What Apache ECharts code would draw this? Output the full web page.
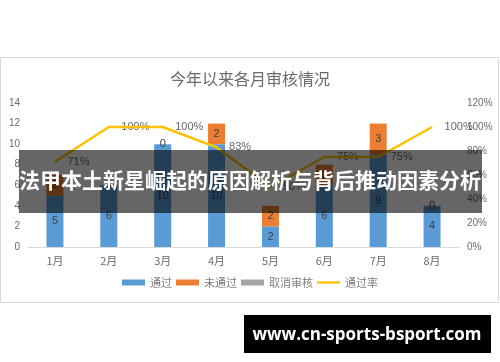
<!DOCTYPE html>
<html>
<head>
<meta charset="utf-8">
<script src="https://cdn.jsdelivr.net/npm/echarts@6/dist/echarts.min.js"></script>
<style>html,body{margin:0;padding:0;background:#fff;}#c{width:500px;height:362px;}</style>
</head>
<body>
<div id="c"></div>
<script>
var months = ['1月','2月','3月','4月','5月','6月','7月','8月'];
var passed = [5, 6, 10, 10, 2, 6, 9, 4];
var failed = [2, 0, 0, 2, 2, 2, 3, 0];
var cancelled = [0, 0, 0, 0, 0, 0, 0, 0];
var passRate = [71, 100, 100, 83, 50, 75, 75, 100];
var seriesNames = ['通过', '未通过', '取消审核', '通过率'];
var titleText = '今年以来各月审核情况';
var bannerText = '法甲本土新星崛起的原因解析与背后推动因素分析';
var siteText = 'www.cn-sports-bsport.com';

var chart = echarts.init(document.getElementById('c'));
var labelFont = 'Liberation Sans, Noto Sans CJK SC, sans-serif';
var cjkFont = 'Noto Sans CJK SC, sans-serif';
chart.setOption({
  animation: false,
  backgroundColor: '#fff',
  title: {
    text: titleText, left: 'center', top: 66,
    textStyle: {fontFamily: cjkFont, fontSize: 16, fontWeight: 'normal', color: '#6b6b6b'}
  },
  legend: {
    bottom: 69, left: 'center', itemGap: 4, itemWidth: 23, itemHeight: 6,
    textStyle: {fontFamily: cjkFont, fontSize: 11, color: '#7f7f7f'},
    data: [
      {name: seriesNames[0], icon: 'rect'},
      {name: seriesNames[1], icon: 'rect'},
      {name: seriesNames[2], icon: 'rect'},
      {name: seriesNames[3], icon: 'path://M0,0H20V2H0Z'}
    ]
  },
  grid: {left: 28, right: 41, top: 103, bottom: 115},
  xAxis: {
    type: 'category', data: months,
    axisLine: {lineStyle: {color: '#d9d9d9'}},
    axisTick: {show: false},
    axisLabel: {fontFamily: cjkFont, fontSize: 11, color: '#6b6b6b', margin: 8}
  },
  yAxis: [
    {type: 'value', min: 0, max: 14, interval: 2, splitLine: {show: false},
     axisLabel: {fontFamily: labelFont, fontSize: 10, color: '#6b6b6b', margin: 8}},
    {type: 'value', min: 0, max: 120, interval: 20, splitLine: {show: false},
     axisLabel: {fontFamily: labelFont, fontSize: 10, color: '#6b6b6b', margin: 8, formatter: '{value}%'}}
  ],
  series: [
    {name: seriesNames[0], type: 'bar', stack: 's', data: passed, barWidth: 17,
     itemStyle: {color: '#5b9bd5'},
     label: {show: true, position: 'inside', fontFamily: labelFont, fontSize: 11, color: '#404040'}},
    {name: seriesNames[1], type: 'bar', stack: 's', data: failed, barWidth: 17,
     itemStyle: {color: '#ed7d31'},
     label: {show: true, position: 'inside', fontFamily: labelFont, fontSize: 11, color: '#404040'}},
    {name: seriesNames[2], type: 'bar', stack: 's', data: cancelled, barWidth: 17,
     itemStyle: {color: '#a5a5a5'}},
    {name: seriesNames[3], type: 'line', yAxisIndex: 1, data: passRate,
     symbol: 'none', lineStyle: {color: '#ffc000', width: 2.5}, itemStyle: {color: '#ffc000'}},
    {name: 'rateLabels', type: 'scatter', yAxisIndex: 1, data: passRate,
     symbolSize: 1, itemStyle: {color: 'rgba(0,0,0,0)'}, silent: true,
     label: {show: true, position: 'right', distance: 12, fontFamily: labelFont, fontSize: 11, color: '#404040', formatter: '{c}%'}}
  ],
  graphic: [
    {type: 'rect', z: -1, shape: {x: 0.5, y: 57.5, width: 498, height: 245},
     style: {fill: 'none', stroke: '#d9d9d9', lineWidth: 1}},
    {type: 'rect', z: 100, shape: {x: 19, y: 150, width: 463, height: 63},
     style: {fill: 'rgba(0,0,0,0.6)'}},
    {type: 'text', z: 101, left: 'center', top: 170,
     style: {text: bannerText, fill: '#fff', font: 'bold 21px "Noto Sans CJK SC", sans-serif'}},
    {type: 'rect', z: 100, shape: {x: 244, y: 315, width: 247, height: 38},
     style: {fill: '#000'}},
    {type: 'text', z: 101, x: 367, y: 335,
     style: {text: siteText, fill: '#fff', align: 'center', verticalAlign: 'middle', font: 'bold 17px "Open Sans", sans-serif'}}
  ]
});
</script>
</body>
</html>
